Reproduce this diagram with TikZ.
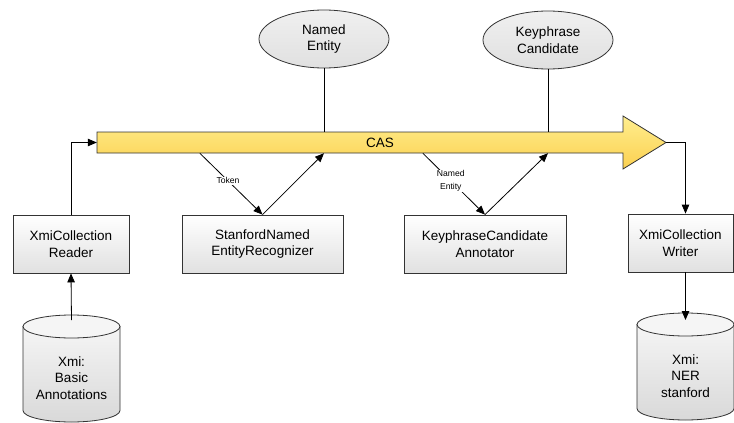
\documentclass[tikz,border=0pt]{standalone}
\usepackage{fontspec}
\setmainfont{Liberation Sans}
\usetikzlibrary{arrows.meta,shapes.geometric}
\definecolor{casTop}{HTML}{FFEE8E}
\definecolor{casBot}{HTML}{FBD050}
\definecolor{edge}{HTML}{333333}
\begin{document}
\begin{tikzpicture}[x=1pt,y=-1pt,
  every node/.style={font=\fontsize{13.5}{16.5}\selectfont},
  procbox/.style={draw=edge, line width=0.8pt, top color=white, bottom color=black!12,
    align=center, minimum height=58pt, inner sep=0pt},
  entity/.style={ellipse, draw=edge, line width=0.8pt, top color=black!6, bottom color=black!12,
    align=center, minimum width=130pt, minimum height=58pt, inner sep=0pt},
  dbbody/.style={draw=edge, line width=0.8pt, top color=black!4, bottom color=black!15},
  dbtop/.style={draw=edge, line width=0.8pt, fill=black!4},
  dbtext/.style={align=center, inner sep=0pt},
  arr/.style={-{Triangle[length=9pt,width=7.5pt]}, line width=0.8pt},
  link/.style={line width=0.8pt},
  tag/.style={font=\fontsize{8.6}{12.5}\selectfont, fill=white, inner sep=1pt, align=center}]
\useasboundingbox (0,0) rectangle (734,423);
\fill[white] (0,0) rectangle (734,423);

% CAS band with its arrow head
\path[draw=edge, line width=0.8pt, top color=casTop, bottom color=casBot]
  (97,132) -- (623,132) -- (623,116) -- (666,142.5) -- (623,169) -- (623,153) -- (97,153) -- cycle;
\node[minimum width=526pt, minimum height=21pt, inner sep=0pt] (cas) at (360,142.5) {};
\coordinate (castip) at (666,142.5);
\node (caslabel) at (380,142.5) {CAS};

% annotation types
\node[entity] (ne) at (324,39) {Named\\Entity};
\node[entity] (kc) at (548,40) {Keyphrase\\Candidate};

% pipeline components
\node[procbox, minimum width=116pt] (reader) at (71,244) {XmiCollection\\Reader};
\node[procbox, minimum width=161pt] (sner) at (262.5,244) {StanfordNamed\\EntityRecognizer};
\node[procbox, minimum width=162pt] (kca) at (485,244) {KeyphraseCandidate\\Annotator};
\node[procbox, minimum width=105pt] (writer) at (680.5,243) {XmiCollection\\Writer};

% input store
\path[dbbody] (23,326.5) -- (23,410.5) arc[start angle=180, end angle=0, x radius=48.5, y radius=11.5] -- (120,326.5) -- cycle;
\draw[dbtop] (71.5,326.5) ellipse[x radius=48.5, y radius=11.5];
\node[dbtext] (db1) at (71.5,378) {Xmi:\\Basic\\Annotations};
\coordinate (db1top) at (71.5,320);

% output store
\path[dbbody] (637,324.5) -- (637,408.5) arc[start angle=180, end angle=0, x radius=48.5, y radius=11.5] -- (734,324.5) -- cycle;
\draw[dbtop] (685.5,324.5) ellipse[x radius=48.5, y radius=11.5];
\node[dbtext] (db2) at (685.5,376) {Xmi:\\NER\\stanford};
\coordinate (db2top) at (685.5,320);

% connectors
\draw[arr] (db1top) -- (reader.south);
\draw[arr] (reader.north) |- (cas.west);
\draw[link] (ne.south) -- (ne |- cas.north);
\draw[link] (kc.south) -- (kc |- cas.north);
\coordinate (tokfrom) at ([xshift=103pt]cas.south west);
\draw[arr] (tokfrom) -- node[tag, pos=0.45] (toklabel) {Token} (sner.north);
\draw[arr] (sner.north) -- (ne |- cas.south);
\coordinate (nefrom) at ([xshift=326pt]cas.south west);
\draw[arr] (nefrom) -- node[tag, pos=0.45] (nelabel) {Named\\Entity} (kca.north);
\draw[arr] (kca.north) -- (kc |- cas.south);
\draw[arr] (castip) -| (writer.north -| db2);
\draw[arr] (writer.south -| db2) -- (db2top);
\end{tikzpicture}
\end{document}
